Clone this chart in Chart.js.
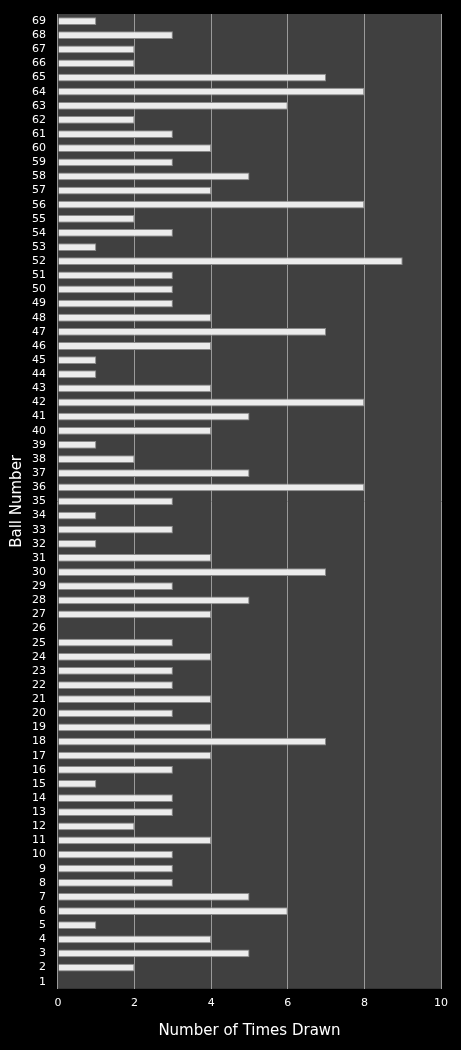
<!DOCTYPE html>
<html lang="en">
<head>
<meta charset="UTF-8">
<title>Ball frequency</title>
<script src="https://cdn.jsdelivr.net/npm/chart.js"></script>
<style>
    html, body { margin: 0; padding: 0; background: #000; }
    #wrap { width: 461px; height: 1050px; }
</style>
</head>
<body>
<div id="wrap"><canvas id="ballChart"></canvas></div>
<script>
    // ball numbers, top to bottom as drawn
    const balls = [];
    for (let n = 69; n >= 1; n--) balls.push(String(n));

    // times drawn, same order as balls (69 .. 1)
    const timesDrawn = [
        1, 3, 2, 2, 7, 8, 6, 2, 3, 4,   // 69-60
        3, 5, 4, 8, 2, 3, 1, 9, 3, 3,   // 59-50
        3, 4, 7, 4, 1, 1, 4, 8, 5, 4,   // 49-40
        1, 2, 5, 8, 3, 1, 3, 1, 4, 7,   // 39-30
        3, 5, 4, 0, 3, 4, 3, 3, 4, 3,   // 29-20
        4, 7, 4, 3, 1, 3, 3, 2, 4, 3,   // 19-10
        3, 3, 5, 6, 1, 4, 5, 2, 0       // 9-1
    ];

    const xTicks = [0, 2, 4, 6, 8, 10];

    // dark grey plot background
    const plotBg = {
        id: 'plotBg',
        beforeDraw(chart) {
            const a = chart.chartArea, c = chart.ctx;
            c.save();
            c.fillStyle = '#000';
            c.fillRect(0, 0, chart.width, chart.height);
            c.fillStyle = '#404040';
            c.fillRect(a.left, a.top, a.right - a.left, a.bottom - a.top);
            c.restore();
        }
    };

    const ctx = document.getElementById('ballChart').getContext('2d');
    const grad = ctx.createLinearGradient(0, 0, 0, 1050);
    grad.addColorStop(0, '#f4f4f4');
    grad.addColorStop(1, '#e0e0e0');

    new Chart(ctx, {
        type: 'bar',
        data: {
            labels: balls,
            datasets: [{
                data: timesDrawn,
                backgroundColor: '#ececec',
                borderColor: '#8a8a8a',
                borderWidth: 1,
                barPercentage: 0.55,
                categoryPercentage: 1
            }]
        },
        plugins: [plotBg],
        options: {
            indexAxis: 'y',
            responsive: true,
            maintainAspectRatio: false,
            animation: false,
            layout: { padding: { top: 14, right: 20, bottom: 6, left: 4 } },
            plugins: { legend: { display: false }, tooltip: { enabled: false } },
            scales: {
                x: {
                    min: 0, max: 10,
                    afterBuildTicks(axis) { axis.ticks = xTicks.map(v => ({ value: v })); },
                    grid: { color: '#9a9a9a', drawTicks: false },
                    border: { display: false },
                    ticks: { color: '#fff', padding: 8, font: { family: 'DejaVu Sans', size: 11 } },
                    title: { display: true, text: 'Number of Times Drawn', color: '#fff',
                             font: { family: 'DejaVu Sans', size: 15 }, padding: { top: 4 } }
                },
                y: {
                    grid: { display: false },
                    border: { display: false },
                    ticks: { color: '#fff', autoSkip: false, padding: 4, font: { family: 'DejaVu Sans', size: 11 } },
                    title: { display: true, text: 'Ball Number', color: '#fff',
                             font: { family: 'DejaVu Sans', size: 15 }, padding: { bottom: 2 } }
                }
            }
        }
    });
</script>
</body>
</html>
